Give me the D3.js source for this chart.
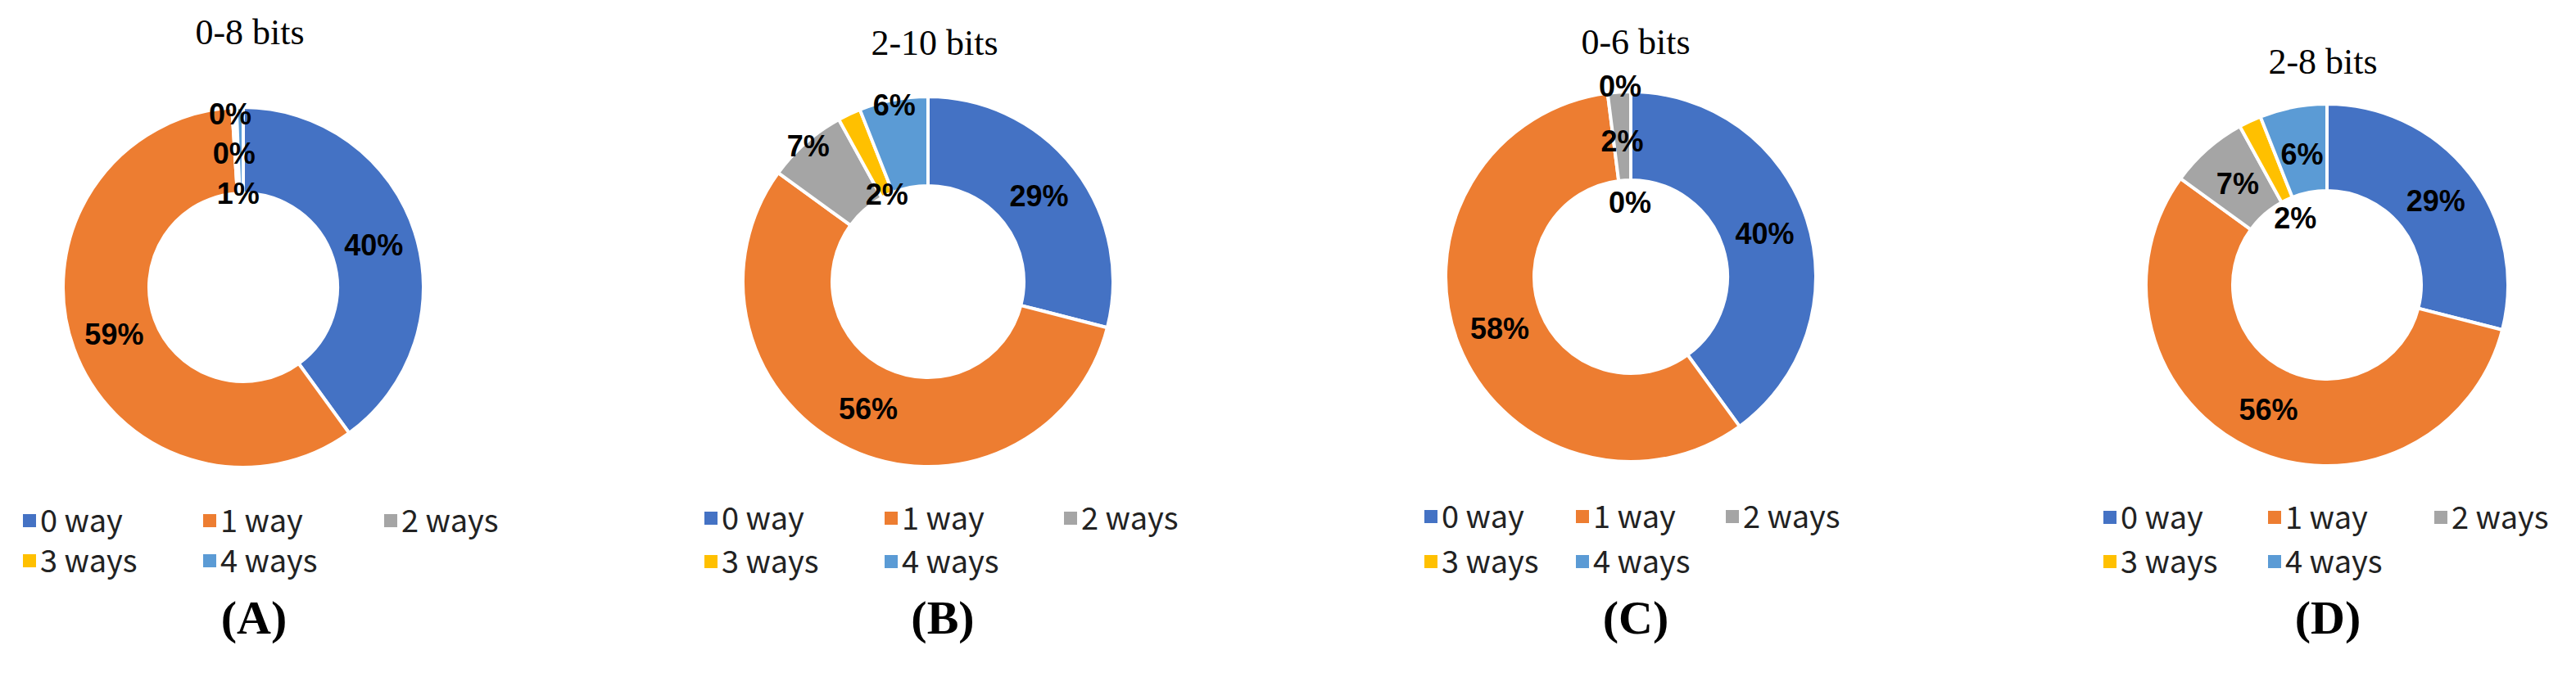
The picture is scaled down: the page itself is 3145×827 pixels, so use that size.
<!DOCTYPE html>
<html><head><meta charset="utf-8">
<script src="https://cdn.jsdelivr.net/npm/d3@7"></script>
<style>body{margin:0;background:#fff}</style>
</head><body>
<svg id="c" width="3145" height="827"></svg>
<script>
// ---- data ----
const categories = ["0 way", "1 way", "2 ways", "3 ways", "4 ways"];
const titles = ["0-8 bits", "2-10 bits", "0-6 bits", "2-8 bits"];
const panelLetters = ["(A)", "(B)", "(C)", "(D)"];
const valuesA = [40, 59, 0.2, 0.2, 0.6];
const valuesB = [29, 56, 7, 2, 6];
const valuesC = [40, 58, 2, 0, 0];
const valuesD = [29, 56, 7, 2, 6];
const colors = ["#4472C4", "#ED7D31", "#A5A5A5", "#FFC000", "#5B9BD5"];

// ---- layout (positions, kept separate from data) ----
const layout = [
  {cx:297, cy:351, R:220, r:115, tx:305, ty:54, lx:[36,256,477], ly:[636,685], px:310,
   labelR:[null,null,212,164,115], labelDx:[0,0,-4,-4,-4]},
  {cx:1133, cy:344, R:226, r:117, tx:1141, ty:67, lx:[868,1088,1307], ly:[633,686], px:1151,
   labelR:[null,null,221,118,220], labelDx:[0,0,0,0,0]},
  {cx:1991, cy:338, R:226, r:118, tx:1997, ty:66, lx:[1747,1932,2115], ly:[631,686], px:1997,
   labelR:[null,null,166,233,91], labelDx:[0,0,0,-13,-1]},
  {cx:2841, cy:348, R:221, r:115, tx:2836, ty:90, lx:[2576,2777,2980], ly:[632,686], px:2842,
   labelR:[null,null,165,91,163], labelDx:[0,0,0,0,0]}
];
const allValues = [valuesA, valuesB, valuesC, valuesD];

const svg = d3.select("#c");
const color = d3.scaleOrdinal().domain(categories).range(colors);
const pie = d3.pie().sort(null).value(d => d.v);

allValues.forEach((vals, i) => {
  const L = layout[i];
  const g = svg.append("g");
  const data = categories.map((c, k) => ({c, v: vals[k], k}));
  const arcs = pie(data);
  const arc = d3.arc().innerRadius(L.r).outerRadius(L.R);
  const gp = g.append("g").attr("transform", `translate(${L.cx},${L.cy})`);
  gp.selectAll("path").data(arcs).join("path")
    .attr("d", arc).attr("fill", d => color(d.data.c))
    .attr("stroke", "#fff").attr("stroke-width", 4).attr("stroke-linejoin","round");
  gp.selectAll("text").data(arcs).join("text")
    .attr("transform", d => {
      const a = (d.startAngle + d.endAngle) / 2;
      const rr = L.labelR[d.data.k] != null ? L.labelR[d.data.k] : (L.R + L.r) / 2;
      return `translate(${rr * Math.sin(a) + L.labelDx[d.data.k]},${-rr * Math.cos(a)})`;
    })
    .attr("text-anchor", "middle").attr("dy", "0.36em")
    .attr("font-family", "'Liberation Sans', Arial, sans-serif")
    .attr("font-weight", "bold").attr("font-size", 36).attr("fill", "#000")
    .text(d => Math.round(d.data.v) + "%");
  // title
  g.append("text").attr("x", L.tx).attr("y", L.ty).attr("text-anchor", "middle")
    .attr("font-family", "'Liberation Serif', 'Times New Roman', serif")
    .attr("font-size", 44).text(titles[i]);
  // legend
  categories.forEach((c, k) => {
    const x = L.lx[k % 3], y = L.ly[Math.floor(k / 3)];
    g.append("rect").attr("x", x - 8).attr("y", y - 8).attr("width", 16).attr("height", 16)
      .attr("fill", color(c));
    g.append("text").attr("x", x + 13).attr("y", y + 14)
      .attr("font-family", "'Noto Sans CJK SC', 'Noto Sans', sans-serif")
      .attr("font-size", 38).attr("fill", "#222").text(c);
  });
  g.append("text").attr("x", L.px).attr("y", 774).attr("text-anchor", "middle")
    .attr("font-family", "'Liberation Serif', 'Times New Roman', serif")
    .attr("font-weight", "bold").attr("font-size", 58).text(panelLetters[i]);
});
</script>
</body></html>
